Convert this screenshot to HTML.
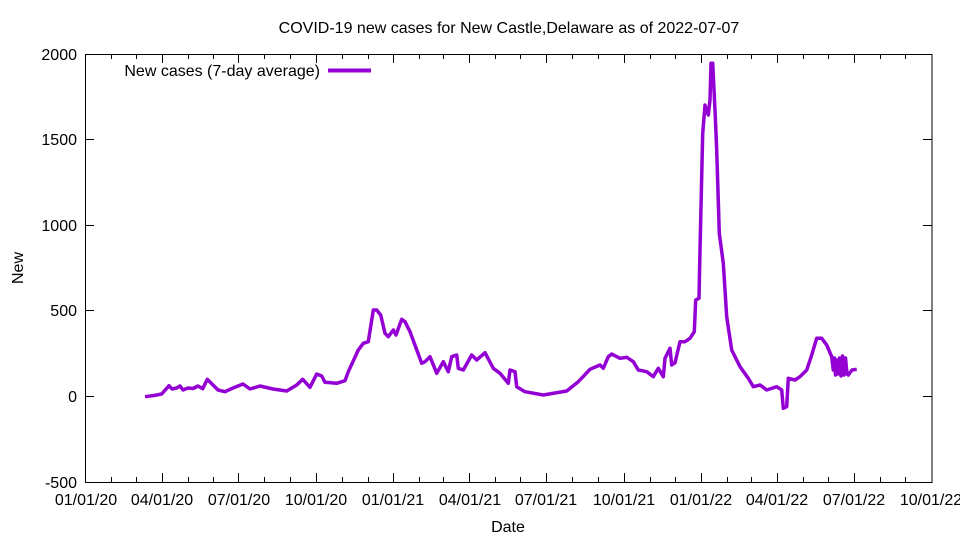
<!DOCTYPE html>
<html><head><meta charset="utf-8"><style>body{margin:0;background:#fff}svg{display:block}text{font-family:"Liberation Sans",sans-serif;font-size:16px;fill:#000}</style></head><body>
<svg width="960" height="540" viewBox="0 0 960 540">
<rect x="85.5" y="54.5" width="846.5" height="428" fill="none" stroke="#000" stroke-width="1"/>
<g stroke="#000" stroke-width="1">
<path d="M85 396.5h9M932 396.5h-9M85 310.5h9M932 310.5h-9M85 225.5h9M932 225.5h-9M85 139.5h9M932 139.5h-9M85 396.5h9"/>
<path d="M162.5 482v-9M238.5 482v-9M316.5 482v-9M393.5 482v-9M469.5 482v-9M546.5 482v-9M624.5 482v-9M701.5 482v-9M777.5 482v-9M854.5 482v-9M162.5 54v9M238.5 54v9M316.5 54v9M393.5 54v9M469.5 54v9M546.5 54v9M624.5 54v9M701.5 54v9M777.5 54v9M854.5 54v9"/>
<path d="M111.5 482v-5M136.5 482v-5M188.5 482v-5M213.5 482v-5M264.5 482v-5M290.5 482v-5M342.5 482v-5M368.5 482v-5M419.5 482v-5M443.5 482v-5M495.5 482v-5M520.5 482v-5M572.5 482v-5M598.5 482v-5M650.5 482v-5M675.5 482v-5M727.5 482v-5M751.5 482v-5M803.5 482v-5M828.5 482v-5M880.5 482v-5M905.5 482v-5M111.5 54v5M136.5 54v5M188.5 54v5M213.5 54v5M264.5 54v5M290.5 54v5M342.5 54v5M368.5 54v5M419.5 54v5M443.5 54v5M495.5 54v5M520.5 54v5M572.5 54v5M598.5 54v5M650.5 54v5M675.5 54v5M727.5 54v5M751.5 54v5M803.5 54v5M828.5 54v5M880.5 54v5M905.5 54v5"/>
</g>
<g text-anchor="end">
<text x="77" y="60">2000</text><text x="77" y="145">1500</text><text x="77" y="231">1000</text><text x="77" y="316">500</text><text x="77" y="402">0</text><text x="77" y="488">-500</text>
</g>
<g text-anchor="middle">
<text x="86" y="505">01/01/20</text><text x="162" y="505">04/01/20</text><text x="239" y="505">07/01/20</text><text x="316" y="505">10/01/20</text><text x="393" y="505">01/01/21</text><text x="470" y="505">04/01/21</text><text x="546" y="505">07/01/21</text><text x="624" y="505">10/01/21</text><text x="701" y="505">01/01/22</text><text x="777" y="505">04/01/22</text><text x="854" y="505">07/01/22</text><text x="931" y="505">10/01/22</text>
<text x="509" y="33">COVID-19 new cases for New Castle,Delaware as of 2022-07-07</text>
<text x="508" y="532">Date</text>
<text transform="translate(23,268) rotate(-90)">New</text>
</g>
<text x="320" y="76" text-anchor="end">New cases (7-day average)</text>
<line x1="328" y1="70.5" x2="371" y2="70.5" stroke="#9400D3" stroke-width="4"/>
<polyline fill="none" stroke="#9400D3" stroke-width="3.5" stroke-linejoin="round" points="
145,396.7 154,395.5 161.7,394 169,385.7 172,389 176.7,388 180,386 183,390 188,388 193,388.5 198,386 202.7,388.7 207.3,379.3 212,384 218,390 225,391.7 233,388 243,384 250,389 260,386 273,389 286.7,391 296.7,385 302.7,379.3 310,387.3 316.7,374 321.7,376 325,382.3 336.7,383.3 345,380.7 348.3,371.7 358.3,350 363.3,343.3 368.3,341.7 373.3,310 376.7,310 380.7,315 385,333.3 388.3,336.7 393.3,330 396,335 401.7,319.3 405,321.7 410,331.7 421.7,363.3 425,361.7 430,356.7 436.7,373.3 443.3,361.7 448.3,371.7 451.7,356.7 456.7,355 458.3,368.3 463.3,370 471.7,355 476.7,360 485,352.7 493.3,368.3 500,373.3 508.3,383.3 510,370 515,371.7 516.7,386.7 525,391.7 543.3,395 566.7,391 578.3,381.7 590,369.3 600,365 603.3,368.3 608.3,356.7 611.7,354 620,358.3 626.7,357.3 633.3,361.7 638.3,370 646.7,371.7 653.3,376.7 658.3,368.3 663.3,376.7 665,358.3 670,348.3 671.7,365 675,362.7 680,341.7 685,341.7 690,338.3 694.3,331.7 695.7,300 699,298.3 700,250 702.7,133.3 705,105 708.3,115 710,100 711,63.3 712.7,63.3 715,110 716.7,150 719.3,233.3 723.3,263.3 726.7,316.7 731.7,350 740,366.7 748.3,378.3 753.3,386.7 760,385 766.7,390 776.7,386.7 781.7,390 783.3,408.3 786.7,406.7 788.3,378.3 795,380 800,376.7 806.7,370 811.7,355 816.7,338.3 821.7,338.3 826.7,345 831.7,356.7 833.3,370 834.5,358 835.5,375 837,360 838,374 839.5,358 841,376 842.5,356 844,375 845.5,358 847,374 848.3,375 852,370 856.7,369.3"/>
</svg>
</body></html>
